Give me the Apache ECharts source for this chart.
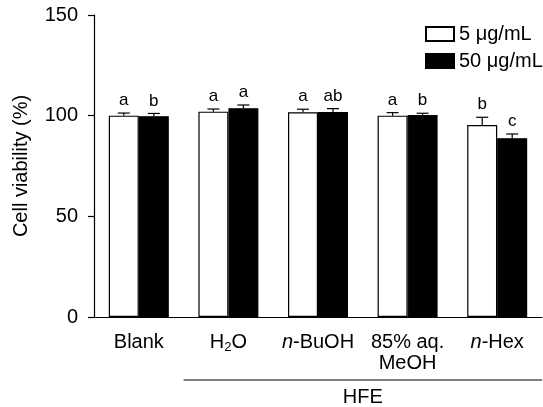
<!DOCTYPE html>
<html>
<head>
<meta charset="utf-8">
<script src="https://cdn.jsdelivr.net/npm/echarts@6/dist/echarts.min.js"></script>
<style>html,body{margin:0;padding:0;background:#fff;}#c{width:543px;height:407px;}</style>
</head>
<body>
<div id="c"></div>
<script>
const categories = ['Blank', 'H2O', 'n-BuOH', '85% aq.\nMeOH', 'n-Hex'];
const seriesNames = ['5 μg/mL', '50 μg/mL'];
const low = [100.0, 102.0, 101.7, 100.0, 95.4];
const high = [99.7, 103.7, 101.8, 100.3, 88.8];
const lowErr = [1.3, 1.3, 1.5, 1.5, 3.8];
const highErr = [1.4, 1.6, 1.7, 0.9, 2.1];
const lowLetters = ['a', 'a', 'a', 'a', 'b'];
const highLetters = ['b', 'a', 'ab', 'b', 'c'];
const yTicks = [0, 50, 100, 150];
const groupLabel = 'HFE';

const FONT = 'Liberation Sans, Arial, sans-serif';
const FS = 20;
const BAR_W = 30;

function errSeries(vals, errs, letters, offset) {
  return {
    type: 'custom',
    z: 5,
    data: vals.map((v, i) => [i, v, errs[i]]),
    encode: { x: 0, y: 1 },
    renderItem: function (params, api) {
      const i = api.value(0), v = api.value(1), e = api.value(2);
      const b = api.coord([i, v]);
      const t = api.coord([i, v + e]);
      const x = b[0] + offset;
      return {
        type: 'group',
        children: [
          { type: 'line', shape: { x1: x, y1: b[1], x2: x, y2: t[1] }, style: { stroke: '#000', lineWidth: 1.2 } },
          { type: 'line', shape: { x1: x - 6, y1: t[1], x2: x + 6, y2: t[1] }, style: { stroke: '#000', lineWidth: 1.2 } },
          { type: 'text', style: { text: letters[params.dataIndex], x: x, y: t[1] - 4, textAlign: 'center', textVerticalAlign: 'bottom', font: '17px ' + FONT, fill: '#000' } }
        ]
      };
    }
  };
}

const chart = echarts.init(document.getElementById('c'), null, { renderer: 'canvas' });
const option = {
  animation: false,
  backgroundColor: '#fff',
  grid: { left: 94, right: 1, top: 15, bottom: 90, containLabel: false },
  legend: {
    orient: 'vertical',
    left: 420,
    top: 19,
    itemWidth: 28,
    itemHeight: 14,
    itemGap: 7,
    icon: 'rect',
    textStyle: { fontFamily: FONT, fontSize: FS, color: '#000' },
    data: seriesNames
  },
  xAxis: {
    type: 'category',
    data: categories,
    axisLine: { lineStyle: { color: '#000', width: 1.2 } },
    axisTick: { length: 7, alignWithLabel: false, lineStyle: { color: '#000', width: 1.2 } },
    axisLabel: {
      margin: 15,
      color: '#000',
      fontFamily: FONT,
      fontSize: FS,
      lineHeight: 21,
      interval: 0,
      formatter: function (v) {
        if (v === 'H2O') return '{r|H}{s|2}{r|O}';
        if (v.indexOf('n-') === 0) return '{i|n}{r|' + v.slice(1) + '}';
        return v;
      },
      rich: {
        r: { fontFamily: FONT, fontSize: FS, color: '#000' },
        i: { fontFamily: FONT, fontSize: FS, fontStyle: 'italic', color: '#000' },
        s: { fontFamily: FONT, fontSize: 13, color: '#000', padding: [10, 0, 0, 0] }
      }
    }
  },
  yAxis: {
    type: 'value',
    min: 0,
    max: 150,
    interval: 50,
    name: 'Cell viability (%)',
    nameLocation: 'middle',
    nameGap: 63,
    nameTextStyle: { fontFamily: FONT, fontSize: FS, color: '#000' },
    axisLine: { show: true, lineStyle: { color: '#000', width: 1.2 } },
    axisTick: { show: true, length: 6, lineStyle: { color: '#000', width: 1.2 } },
    splitLine: { show: false },
    axisLabel: {
      margin: 16, color: '#000', fontFamily: FONT, fontSize: FS,
      formatter: function (v) { return yTicks.indexOf(v) >= 0 ? String(v) : ''; }
    }
  },
  series: [
    { name: seriesNames[0], type: 'bar', data: low, barWidth: BAR_W, barGap: '0%', itemStyle: { color: '#fff', borderColor: '#000', borderWidth: 1.2 } },
    { name: seriesNames[1], type: 'bar', data: high, barWidth: BAR_W, barGap: '0%', itemStyle: { color: '#000', borderColor: '#000', borderWidth: 1.2 } },
    errSeries(low, lowErr, lowLetters, -BAR_W / 2),
    errSeries(high, highErr, highLetters, BAR_W / 2)
  ]
};
chart.setOption(option);

const c0 = chart.convertToPixel({ xAxisIndex: 0 }, 0);
const c1 = chart.convertToPixel({ xAxisIndex: 0 }, 1);
const cN = chart.convertToPixel({ xAxisIndex: 0 }, categories.length - 1);
const bw = c1 - c0;
const x1 = c1 - bw / 2, x2 = cN + bw / 2;
const y0 = chart.convertToPixel({ yAxisIndex: 0 }, 0);
chart.setOption({
  graphic: [
    { type: 'line', shape: { x1: x1, y1: y0 + 63, x2: x2, y2: y0 + 63 }, style: { stroke: '#000', lineWidth: 1.2 } },
    { type: 'text', style: { text: groupLabel, x: (x1 + x2) / 2, y: y0 + 80, textAlign: 'center', textVerticalAlign: 'middle', font: FS + 'px ' + FONT, fill: '#000' } }
  ]
});
</script>
</body>
</html>
